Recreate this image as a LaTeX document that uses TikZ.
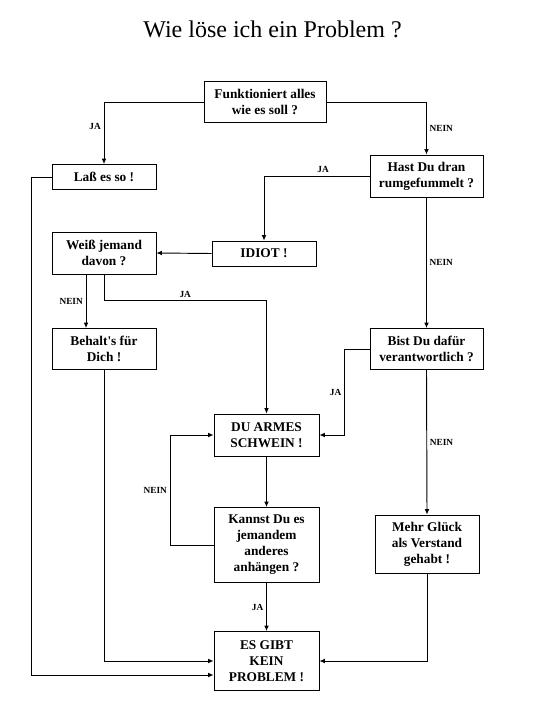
\documentclass[tikz,border=0pt]{standalone}
\usepackage{fontspec}
\setmainfont{Liberation Serif}
\usepackage{tikz}
\usetikzlibrary{arrows.meta}
\tikzset{
  kasten/.style={draw, line width=0.7pt, align=center, inner sep=1pt, font=\fontsize{10}{12}\selectfont\bfseries},
  lab/.style={font=\fontsize{7}{8}\selectfont\bfseries, inner sep=2pt},
  titel/.style={font=\fontsize{18}{20}\selectfont},
  arrow/.style={-{Latex[length=4pt,width=3.5pt]}, line width=0.7pt},
}
\begin{document}
\begin{tikzpicture}[x=0.75pt, y=-0.75pt]
\useasboundingbox (0,0) rectangle (540,720);
\node[titel] (titel) at (272.5,29) {Wie löse ich ein Problem ?};
\node[kasten, minimum width=91.5pt, minimum height=30.75pt] (fkt) at (265,102) {Funktioniert alles\\wie es soll ?};
\node[kasten, minimum width=78pt, minimum height=18.75pt] (lass) at (104,177) {Laß es so !};
\node[kasten, minimum width=84.75pt, minimum height=31.5pt] (hast) at (426.5,176) {Hast Du dran\\rumgefummelt ?};
\node[kasten, minimum width=78pt, minimum height=31.5pt] (weiss) at (104,253) {Weiß jemand\\davon ?};
\node[kasten, minimum width=78pt, minimum height=18.75pt] (idiot) at (264,253.5) {IDIOT !};
\node[kasten, minimum width=78pt, minimum height=30.75pt] (behalt) at (104,349) {Behalt\textquotesingle s für\\Dich !};
\node[kasten, minimum width=84.75pt, minimum height=30.75pt] (bist) at (426.5,349) {Bist Du dafür\\verantwortlich ?};
\node[kasten, minimum width=78.75pt, minimum height=31.5pt] (armes) at (266.5,435) {DU ARMES\\SCHWEIN !};
\node[kasten, minimum width=78.75pt, minimum height=56.25pt] (kannst) at (266.5,545) {Kannst Du es\\jemandem\\anderes\\anhängen ?};
\node[kasten, minimum width=78pt, minimum height=43.5pt] (mehr) at (427,544) {Mehr Glück\\als Verstand\\gehabt !};
\node[kasten, minimum width=78.75pt, minimum height=44.25pt] (esgibt) at (266.5,661) {ES GIBT\\KEIN\\PROBLEM !};
\draw[arrow] (fkt.west) -| node[lab, left, pos=0.7] {JA} (lass.north);
\draw[arrow] (fkt.east) -| node[lab, right, pos=0.75] {NEIN} (hast.north);
\draw[arrow] (hast.west) -| node[lab, above, pos=0.22] {JA} (idiot.north);
\draw[arrow] (idiot.west) -- (weiss.east);
\draw[arrow] (hast.south) -- node[lab, right] {NEIN} (bist.north);
\draw[arrow] ([xshift=-13.5pt]weiss.south) -- node[lab, left] {NEIN} ([xshift=-13.5pt]behalt.north);
\draw[arrow] (weiss.south) -- ++(0,26) -| node[lab, above, pos=0.25] {JA} (armes.north);
\draw[arrow] (bist.west) -- ++(-25,0) |- node[lab, left, pos=0.25] {JA} (armes.east);
\draw[arrow] (bist.south) -- node[lab, right] {NEIN} (mehr.north);
\draw[arrow] (armes.south) -- (kannst.north);
\draw[arrow] (kannst.west) -- ++(-43.5,0) |- node[lab, left, pos=0.25] {NEIN} (armes.west);
\draw[arrow] (kannst.south) -- node[lab, left] {JA} (esgibt.north);
\draw[arrow] (behalt.south) |- (esgibt.west);
\draw[arrow] (mehr.south) |- (esgibt.east);
\draw[arrow] (lass.west) -- ++(-20,0) |- ([yshift=-10.5pt]esgibt.west);
\end{tikzpicture}
\end{document}
